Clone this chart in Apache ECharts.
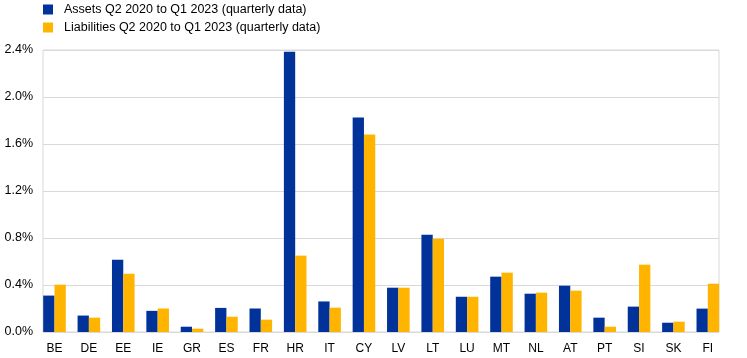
<!DOCTYPE html>
<html>
<head>
<meta charset="utf-8">
<script src="https://cdn.jsdelivr.net/npm/echarts@6/dist/echarts.min.js"></script>
<style>html,body{margin:0;padding:0;background:#fff}#c{width:747px;height:358px}</style>
</head>
<body>
<div id="c"></div>
<script>
const categories = ["BE","DE","EE","IE","GR","ES","FR","HR","IT","CY","LV","LT","LU","MT","NL","AT","PT","SI","SK","FI"];
const assets = [0.31,0.14,0.615,0.18,0.045,0.205,0.2,2.385,0.26,1.825,0.377,0.828,0.3,0.471,0.326,0.394,0.122,0.216,0.079,0.199];
const liabilities = [0.403,0.122,0.496,0.2,0.028,0.13,0.105,0.65,0.207,1.68,0.377,0.794,0.3,0.505,0.335,0.352,0.045,0.573,0.088,0.411];
const assetsName = "Assets Q2 2020 to Q1 2023 (quarterly data)";
const liabilitiesName = "Liabilities Q2 2020 to Q1 2023 (quarterly data)";

const chart = echarts.init(document.getElementById('c'), null, {renderer:'canvas'});
const font = '"Liberation Sans", Arial, sans-serif';
chart.setOption({
  animation:false,
  textStyle:{fontFamily:font},
  legend:{
    orient:'vertical', left:43, top:3, padding:0, itemWidth:10, itemHeight:10, itemGap:5,
    icon:'rect',
    textStyle:{fontFamily:font, fontSize:12.5, color:'#000', padding:[0,0,0,6]},
    data:[assetsName, liabilitiesName]
  },
  grid:[
    {left:43, right:28, top:50, bottom:26, show:true, borderColor:'#d9d9d9', borderWidth:1},
    {left:37.3, right:22, top:50, bottom:26}
  ],
  xAxis:[
    {gridIndex:0, type:'category', data:categories, show:false},
    {gridIndex:1, type:'category', data:categories,
     axisLine:{show:false}, axisTick:{show:false},
     axisLabel:{fontFamily:font, fontSize:12, color:'#000', margin:11}}
  ],
  yAxis:[
    {gridIndex:0, type:'value', min:0, max:2.4, interval:0.4,
     axisLine:{show:false}, axisTick:{show:false},
     splitLine:{lineStyle:{color:'#d9d9d9'}},
     axisLabel:{fontFamily:font, fontSize:12.5, color:'#000', margin:10, formatter:v=>v.toFixed(1)+'%'}},
    {gridIndex:1, type:'value', min:0, max:2.4, interval:0.4, show:false, splitLine:{show:false}}
  ],
  series:[
    {name:assetsName, type:'bar', xAxisIndex:1, yAxisIndex:1, data:assets, barWidth:11.3, barGap:'0%', itemStyle:{color:'#003299'}},
    {name:liabilitiesName, type:'bar', xAxisIndex:1, yAxisIndex:1, data:liabilities, barWidth:11.3, itemStyle:{color:'#ffb400'}}
  ]
});
</script>
</body>
</html>
